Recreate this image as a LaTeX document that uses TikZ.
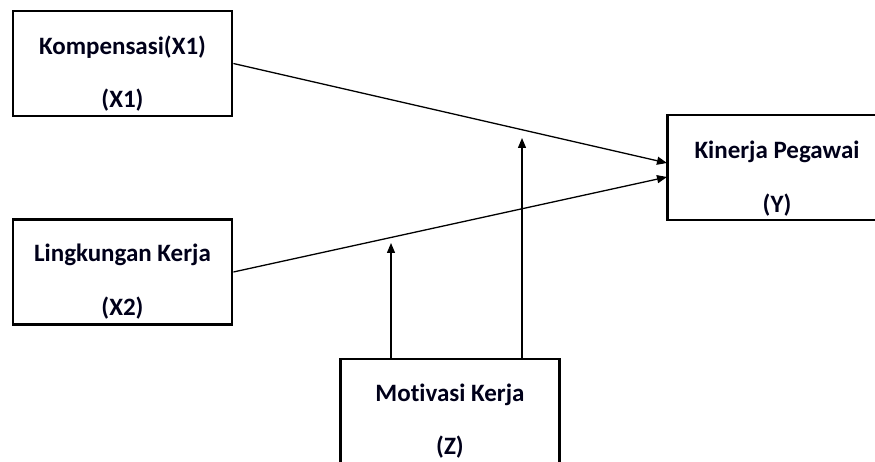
\documentclass[tikz,border=0pt]{standalone}
\usepackage{fontspec}
\setmainfont{Carlito}[Ligatures={NoCommon}]
\usetikzlibrary{positioning, arrows.meta}

\tikzset{
  box/.style={draw, line width=2.8pt, minimum width=219pt, minimum height=105pt, inner sep=0pt},
  lbl/.style={font=\fontsize{25}{28}\selectfont\bfseries, text=black!90!blue},
  link/.style={-{Triangle[length=10pt,width=8pt]}, line width=1.3pt}
}

\begin{document}
\begin{tikzpicture}[x=1pt,y=-1pt]
\useasboundingbox (0,0) rectangle (875,462);
\clip (0,0) rectangle (875,462);
% boxes
\node[box] (kom) at (122.5,63.5) {};
\node[box] (lin) at (122.5,272) {};
\node[box] (kin) at (777,167.5) {};
\node[box] (mot) at (450,411.5) {};
% labels
\node[lbl] (komA) at (122.5,47) {Kompensasi(X1)};
\node[lbl] (komB) at (122.5,100) {(X1)};
\node[lbl] (linA) at (122.5,255) {Lingkungan Kerja};
\node[lbl] (linB) at (122.5,308) {(X2)};
\node[lbl] (kinA) at (777,152) {Kinerja Pegawai};
\node[lbl] (kinB) at (777,205) {(Y)};
\node[lbl] (motA) at (450,395) {Motivasi Kerja};
\node[lbl] (motB) at (450,447) {(Z)};
% arrow ends
\coordinate (inA) at (667,163);
\coordinate (inB) at (667,177);
\coordinate (modA) at (391,243);
\coordinate (modB) at (522,138);
% arrows
\draw[link] (kom.east) -- (inA);
\draw[link] (lin.east) -- (inB);
\draw[link] (mot.north -| modA) -- (modA);
\draw[link] (mot.north -| modB) -- (modB);
\end{tikzpicture}
\end{document}
